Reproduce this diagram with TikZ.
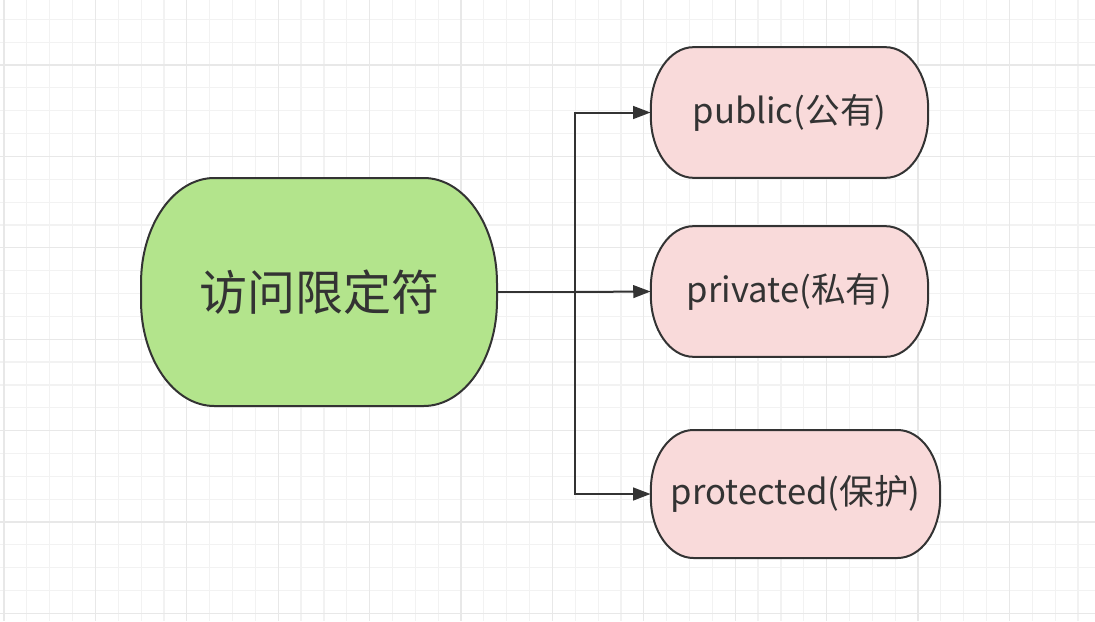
\documentclass[tikz,border=0pt]{standalone}
\usepackage{fontspec}
\setmainfont{Noto Sans CJK SC}
\usetikzlibrary{arrows.meta,positioning}
\definecolor{gridminor}{HTML}{F2F2F2}
\definecolor{gridmajor}{HTML}{E8E8E8}
\definecolor{inkgray}{HTML}{333333}
\definecolor{accgreen}{HTML}{B3E48C}
\definecolor{modpink}{HTML}{F9DADA}
% oval box: center, half width, half height, x radius, y radius, style
\newcommand{\ovalbox}[6]{%
	\draw[#6,shift={#1}] (-#2+#4,#3) -- (#2-#4,#3)
		arc[start angle=90,end angle=0,x radius=#4,y radius=#5] -- (#2,-#3+#5)
		arc[start angle=0,end angle=-90,x radius=#4,y radius=#5] -- (-#2+#4,-#3)
		arc[start angle=270,end angle=180,x radius=#4,y radius=#5] -- (-#2,#3-#5)
		arc[start angle=180,end angle=90,x radius=#4,y radius=#5] -- cycle;}
\tikzset{
	rootfill/.style={draw=inkgray,line width=1.5pt,fill=accgreen},
	modfill/.style={draw=inkgray,line width=1.5pt,fill=modpink},
	rootbox/.style={minimum width=267pt,minimum height=171pt,text=inkgray,font=\fontsize{36}{42}\selectfont},
	modbox/.style={minimum width=208pt,minimum height=98pt,text=inkgray,font=\fontsize{26}{31}\selectfont},
	link/.style={draw=inkgray,line width=1.5pt},
	linkarrow/.style={link,-{Triangle[length=13pt,width=9.5pt]}}
}
\begin{document}
\begin{tikzpicture}[x=0.75pt,y=-0.75pt]
			\def\picw{1095}
			\def\pich{621}
			% background and grid
			\fill[white] (0,0) rectangle (\picw,\pich);
			\useasboundingbox (0,0) rectangle (\picw,\pich);
			\foreach \i in {0,...,48} {
				\draw[gridminor,line width=0.9pt] (4+22.85*\i,0) -- (4+22.85*\i,\pich);
			}
			\foreach \i in {-1,...,26} {
				\draw[gridminor,line width=0.9pt] (0,19.3+22.85*\i) -- (\picw,19.3+22.85*\i);
			}
			\foreach \i in {0,...,12} {
				\draw[gridmajor,line width=0.9pt] (4+91.4*\i,0) -- (4+91.4*\i,\pich);
			}
			\foreach \i in {0,...,6} {
				\draw[gridmajor,line width=0.9pt] (0,65+91.4*\i) -- (\picw,65+91.4*\i);
			}
			% box outlines
			\ovalbox{(319,292)}{133.5pt}{85.5pt}{55pt}{79pt}{rootfill}
			\ovalbox{(789.5,112.5)}{104pt}{49pt}{32pt}{46pt}{modfill}
			\ovalbox{(789.5,291.5)}{104pt}{49pt}{32pt}{46pt}{modfill}
			\ovalbox{(795.5,494)}{108.5pt}{48pt}{32pt}{45pt}{modfill}
			% nodes
			\node[rootbox] (access) at (319,292) {访问限定符};
			\node[modbox] (public) at (789.5,112.5) {public(公有)};
			\node[modbox] (private) at (789.5,291.5) {private(私有)};
			\node[modbox,minimum width=217pt,minimum height=96pt] (protected) at (795.5,494) {protected(保护)};
			% connectors
			\coordinate (fork) at (575,292);
			\draw[link] (access.east) -- (fork);
			\draw[linkarrow] (fork) |- (public.west);
			\draw[linkarrow] (fork) -- (private.west);
			\draw[linkarrow] (fork) |- (protected.west);
		\end{tikzpicture}
\end{document}
